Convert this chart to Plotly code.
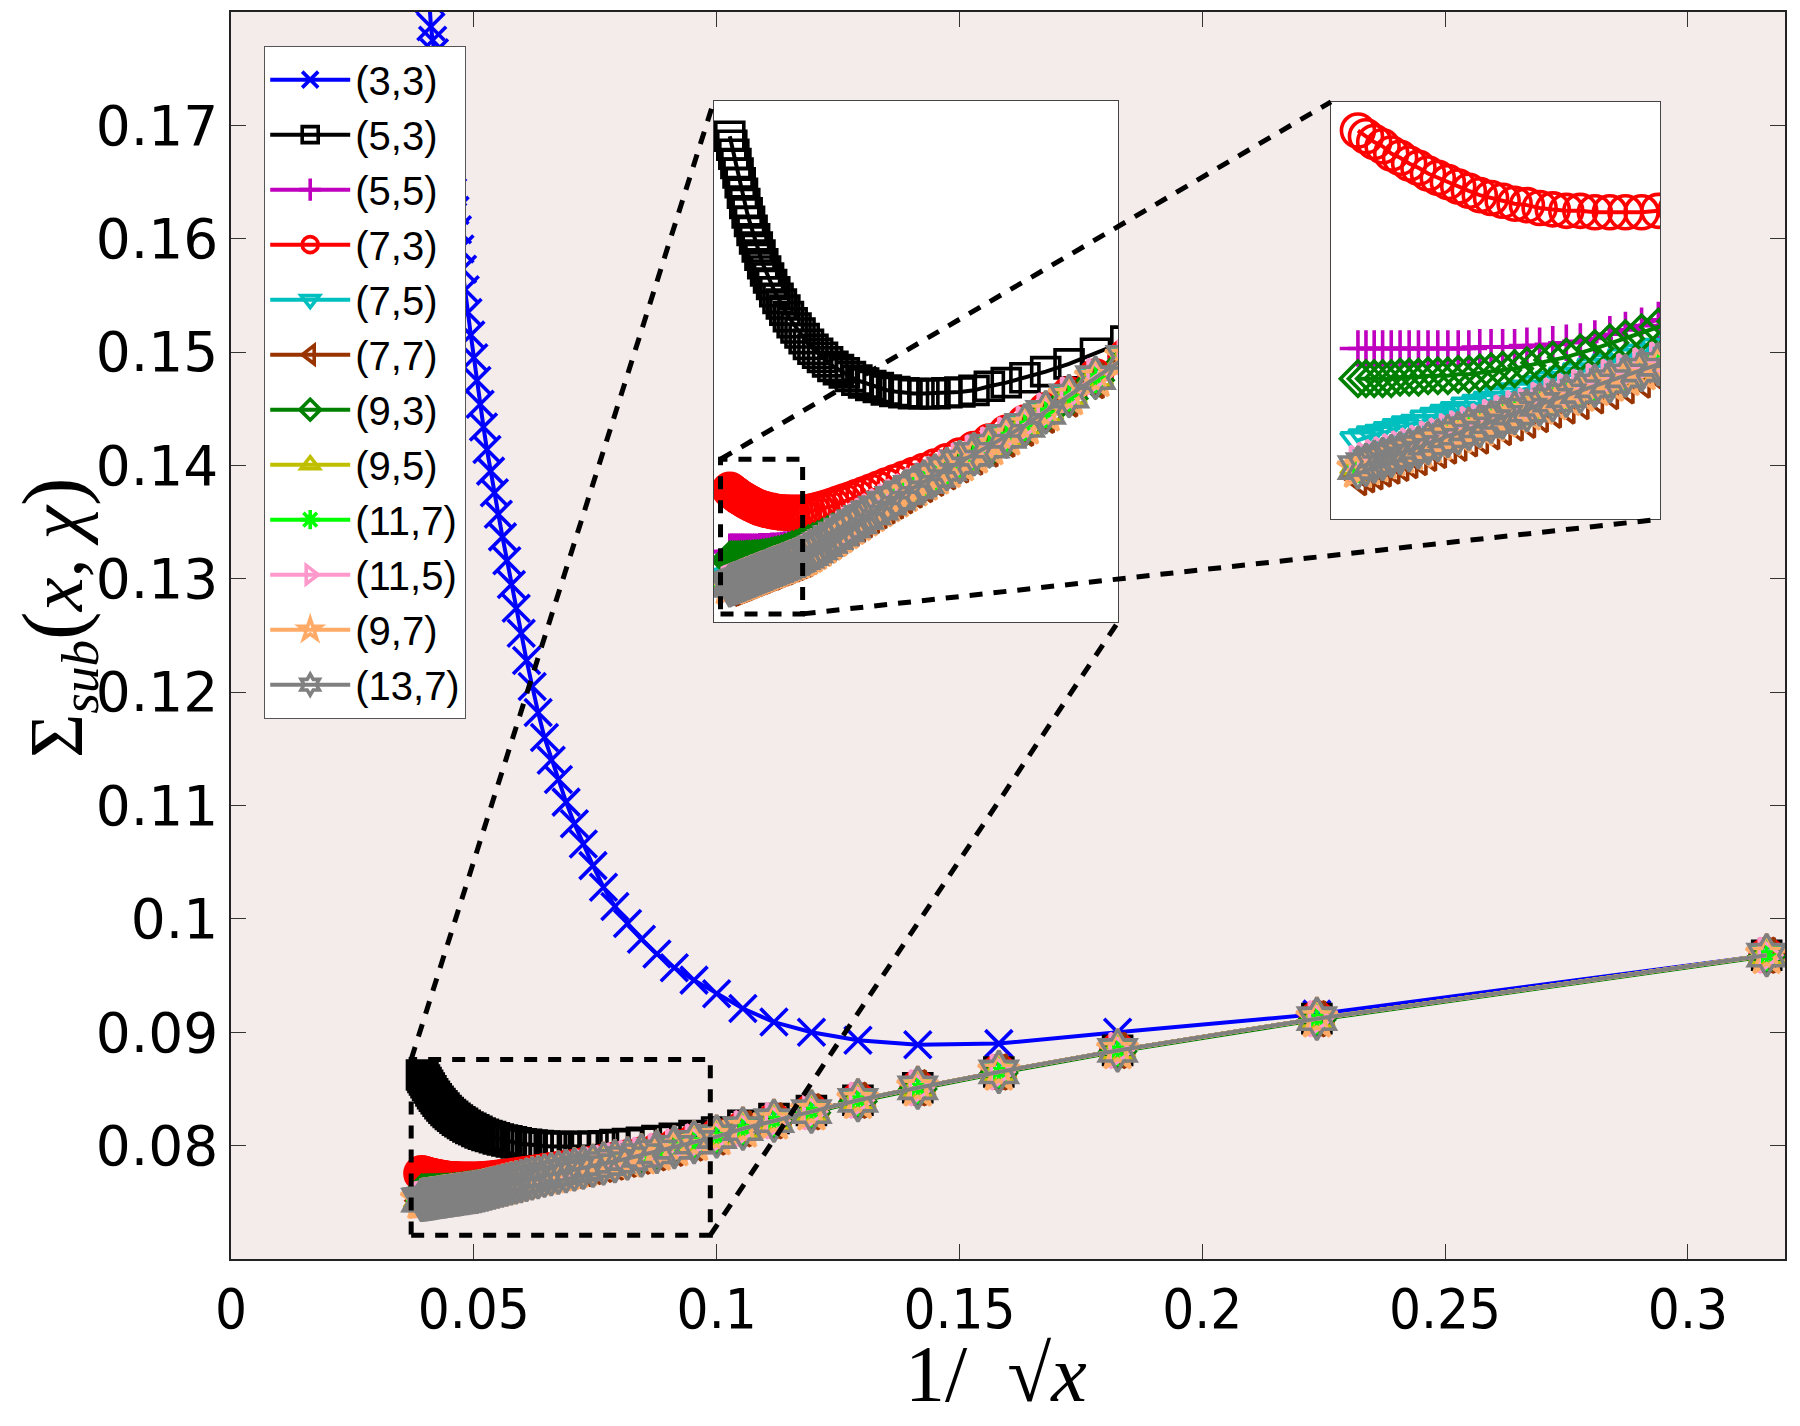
import numpy as np
import plotly.graph_objects as go

# ---------------- data ----------------
n_values = [10, 20, 30, 40, 50, 60, 70, 80, 90, 100,
            110, 120, 130, 140, 150, 160, 170, 180, 190, 200,
            210, 220, 230, 240, 250, 260, 270, 280, 290, 300,
            310, 320, 330, 340, 350, 360, 370, 380, 390, 400,
            410, 420, 430, 440, 450, 460, 470, 480, 490, 500,
            510, 520, 530, 540, 550, 560, 570, 580, 590, 600,
            610, 620, 630, 640, 650]

s33 = [0.0968, 0.0916, 0.0900, 0.0890, 0.0889, 0.0893, 0.0900, 0.0909, 0.0921, 0.0934,
       0.0946, 0.0957, 0.0969, 0.0982, 0.0996, 0.1011, 0.1028, 0.1047, 0.1066, 0.1084,
       0.1103, 0.1123, 0.1140, 0.1160, 0.1182, 0.1205, 0.1228, 0.1252, 0.1274, 0.1295,
       0.1316, 0.1337, 0.1357, 0.1376, 0.1395, 0.1414, 0.1434, 0.1454, 0.1475, 0.1495,
       0.1515, 0.1535, 0.1555, 0.1573, 0.1591, 0.1608, 0.1625, 0.1641, 0.1656, 0.1671,
       0.1686, 0.1700, 0.1714, 0.1727, 0.1740, 0.1752, 0.1764, 0.1775, 0.1787, 0.1811]

s53 = [0.0968, 0.0912, 0.0884, 0.0865, 0.0851, 0.0840, 0.0831, 0.0824, 0.0818, 0.0812,
       0.08090, 0.08064, 0.08045, 0.08030, 0.08018, 0.08009, 0.07999, 0.07995, 0.07993, 0.07991,
       0.07991, 0.07991, 0.07993, 0.07996, 0.08000, 0.08006, 0.08011, 0.08017, 0.08024, 0.08033,
       0.08042, 0.08050, 0.08058, 0.08069, 0.08080, 0.08090, 0.08100, 0.08112, 0.08126, 0.08140,
       0.08152, 0.08165, 0.08180, 0.08196, 0.08211, 0.08225, 0.08241, 0.08259, 0.08275, 0.08292,
       0.08310, 0.08331, 0.08351, 0.08371, 0.08392, 0.08414, 0.08435, 0.08458, 0.08483, 0.08509,
       0.08533, 0.08556, 0.08579, 0.08601, 0.08623]

s55 = [0.0968, 0.0912, 0.0884, 0.0865, 0.0851, 0.0840, 0.0830, 0.0822, 0.0815, 0.0808,
       0.08031, 0.07986, 0.07946, 0.07914, 0.07887, 0.07864, 0.07844, 0.07826, 0.07809, 0.07794,
       0.07779, 0.07766, 0.07753, 0.07741, 0.07730, 0.07719, 0.07708, 0.07698, 0.07688, 0.07679,
       0.07671, 0.07663, 0.07656, 0.07649, 0.07643, 0.07637, 0.07632, 0.07627, 0.07623, 0.07619,
       0.07616, 0.07613, 0.07610, 0.07608, 0.07607, 0.07606, 0.07605, 0.07605, 0.07604, 0.07604,
       0.07604, 0.07604, 0.07603, 0.07603, 0.07603, 0.07603, 0.07603, 0.07603, 0.07603, 0.07603,
       0.07603, 0.07603, 0.07603, 0.07603, 0.07603]

s73 = [0.0968, 0.0912, 0.0884, 0.0865, 0.0851, 0.0840, 0.0830, 0.0822, 0.0815, 0.08082,
       0.08033, 0.07989, 0.07950, 0.07920, 0.07895, 0.07873, 0.07855, 0.07839, 0.07825, 0.07812,
       0.07801, 0.07791, 0.07782, 0.07773, 0.07765, 0.07757, 0.07750, 0.07743, 0.07737, 0.07731,
       0.07726, 0.07721, 0.07716, 0.07712, 0.07708, 0.07705, 0.07702, 0.07700, 0.07699, 0.07698,
       0.07698, 0.07698, 0.07698, 0.07699, 0.07699, 0.07700, 0.07701, 0.07703, 0.07704, 0.07706,
       0.07708, 0.07710, 0.07713, 0.07716, 0.07719, 0.07722, 0.07725, 0.07729, 0.07732, 0.07736,
       0.07739, 0.07744, 0.07747, 0.07751, 0.07755]

s75 = [0.0968, 0.0912, 0.0884, 0.0865, 0.0851, 0.0840, 0.0830, 0.0822, 0.0815, 0.08082,
       0.08032, 0.07987, 0.07947, 0.07915, 0.07888, 0.07865, 0.07845, 0.07826, 0.07809, 0.07794,
       0.07779, 0.07765, 0.07751, 0.07739, 0.07727, 0.07715, 0.07704, 0.07693, 0.07683, 0.07673,
       0.07664, 0.07654, 0.07646, 0.07637, 0.07630, 0.07622, 0.07616, 0.07609, 0.07604, 0.07600,
       0.07597, 0.07593, 0.07590, 0.07587, 0.07584, 0.07581, 0.07578, 0.07575, 0.07573, 0.07570,
       0.07567, 0.07565, 0.07563, 0.07560, 0.07558, 0.07556, 0.07554, 0.07551, 0.07550, 0.07548,
       0.07546, 0.07544, 0.07543, 0.07541, 0.07539]

s77 = [0.0968, 0.0912, 0.0884, 0.0865, 0.0851, 0.0840, 0.0830, 0.0822, 0.0815, 0.08077,
       0.08023, 0.07978, 0.07938, 0.07906, 0.07879, 0.07855, 0.07835, 0.07816, 0.07799, 0.07783,
       0.07768, 0.07754, 0.07740, 0.07727, 0.07715, 0.07703, 0.07691, 0.07680, 0.07669, 0.07659,
       0.07649, 0.07639, 0.07630, 0.07621, 0.07613, 0.07605, 0.07598, 0.07591, 0.07585, 0.07581,
       0.07577, 0.07573, 0.07570, 0.07566, 0.07563, 0.07560, 0.07557, 0.07553, 0.07551, 0.07548,
       0.07545, 0.07542, 0.07540, 0.07537, 0.07535, 0.07532, 0.07530, 0.07527, 0.07525, 0.07523,
       0.07521, 0.07519, 0.07517, 0.07515, 0.07513]

s93 = [0.0967, 0.0911, 0.0883, 0.0864, 0.0850, 0.0839, 0.0829, 0.0821, 0.0814, 0.0807,
       0.08024, 0.07979, 0.07939, 0.07907, 0.07880, 0.07856, 0.07837, 0.07818, 0.07802, 0.07787,
       0.07773, 0.07760, 0.07747, 0.07735, 0.07724, 0.07713, 0.07702, 0.07692, 0.07682, 0.07674,
       0.07666, 0.07658, 0.07651, 0.07644, 0.07638, 0.07632, 0.07627, 0.07622, 0.07618, 0.07614,
       0.07610, 0.07607, 0.07603, 0.07600, 0.07597, 0.07595, 0.07593, 0.07591, 0.07589, 0.07588,
       0.07587, 0.07586, 0.07585, 0.07585, 0.07584, 0.07584, 0.07584, 0.07583, 0.07583, 0.07583,
       0.07582, 0.07582, 0.07582, 0.07582, 0.07582]

s95 = [0.0968, 0.0912, 0.0884, 0.0865, 0.0851, 0.0840, 0.0830, 0.0822, 0.0815, 0.0808,
       0.08031, 0.07986, 0.07946, 0.07914, 0.07887, 0.07863, 0.07843, 0.07824, 0.07807, 0.07791,
       0.07776, 0.07762, 0.07748, 0.07735, 0.07723, 0.07711, 0.07699, 0.07688, 0.07677, 0.07667,
       0.07657, 0.07647, 0.07638, 0.07629, 0.07621, 0.07613, 0.07606, 0.07599, 0.07593, 0.07589,
       0.07585, 0.07581, 0.07578, 0.07574, 0.07571, 0.07568, 0.07565, 0.07561, 0.07559, 0.07556,
       0.07553, 0.07550, 0.07548, 0.07545, 0.07543, 0.07540, 0.07538, 0.07535, 0.07533, 0.07531,
       0.07529, 0.07527, 0.07525, 0.07523, 0.07521]

s117 = [0.0968, 0.0912, 0.0884, 0.0865, 0.0851, 0.0840, 0.0830, 0.0822, 0.0815, 0.0808,
        0.08030, 0.07985, 0.07945, 0.07913, 0.07886, 0.07862, 0.07842, 0.07823, 0.07806, 0.07790,
        0.07775, 0.07761, 0.07747, 0.07734, 0.07722, 0.07710, 0.07698, 0.07687, 0.07676, 0.07666,
        0.07656, 0.07646, 0.07637, 0.07628, 0.07620, 0.07612, 0.07605, 0.07598, 0.07592, 0.07588,
        0.07584, 0.07580, 0.07577, 0.07573, 0.07570, 0.07567, 0.07564, 0.07560, 0.07558, 0.07555,
        0.07552, 0.07549, 0.07547, 0.07544, 0.07542, 0.07539, 0.07537, 0.07534, 0.07532, 0.07530,
        0.07528, 0.07526, 0.07524, 0.07522, 0.07520]

s115 = [0.0968, 0.0912, 0.0884, 0.0865, 0.0851, 0.0840, 0.0830, 0.0822, 0.0815, 0.0808,
        0.08033, 0.07988, 0.07948, 0.07916, 0.07889, 0.07865, 0.07845, 0.07826, 0.07809, 0.07793,
        0.07778, 0.07764, 0.07750, 0.07737, 0.07725, 0.07713, 0.07701, 0.07690, 0.07679, 0.07669,
        0.07659, 0.07649, 0.07640, 0.07631, 0.07623, 0.07615, 0.07608, 0.07601, 0.07595, 0.07591,
        0.07587, 0.07583, 0.07580, 0.07576, 0.07573, 0.07570, 0.07567, 0.07563, 0.07561, 0.07558,
        0.07555, 0.07552, 0.07550, 0.07547, 0.07545, 0.07542, 0.07540, 0.07537, 0.07535, 0.07533,
        0.07531, 0.07529, 0.07527, 0.07525, 0.07523]

s97 = [0.0968, 0.0912, 0.0884, 0.0865, 0.0851, 0.0840, 0.0830, 0.0822, 0.0815, 0.0808,
       0.08029, 0.07984, 0.07944, 0.07912, 0.07885, 0.07861, 0.07841, 0.07822, 0.07805, 0.07789,
       0.07774, 0.07760, 0.07746, 0.07733, 0.07721, 0.07709, 0.07697, 0.07686, 0.07675, 0.07665,
       0.07655, 0.07645, 0.07636, 0.07627, 0.07619, 0.07611, 0.07604, 0.07597, 0.07591, 0.07587,
       0.07583, 0.07579, 0.07576, 0.07572, 0.07569, 0.07566, 0.07563, 0.07559, 0.07557, 0.07554,
       0.07551, 0.07548, 0.07546, 0.07543, 0.07541, 0.07538, 0.07536, 0.07533, 0.07531, 0.07529,
       0.07527, 0.07525, 0.07523, 0.07521, 0.07519]

s137 = [0.0968, 0.0912, 0.0884, 0.0865, 0.0851, 0.0840, 0.0830, 0.0822, 0.0815, 0.0808,
        0.08030, 0.07985, 0.07945, 0.07913, 0.07886, 0.07862, 0.07842, 0.07823, 0.07806, 0.07790,
        0.07775, 0.07761, 0.07747, 0.07734, 0.07722, 0.07710, 0.07698, 0.07687, 0.07676, 0.07666,
        0.07656, 0.07646, 0.07637, 0.07628, 0.07620, 0.07612, 0.07605, 0.07598, 0.07592, 0.07588,
        0.07584, 0.07580, 0.07577, 0.07573, 0.07570, 0.07567, 0.07564, 0.07560, 0.07558, 0.07555,
        0.07552, 0.07549, 0.07547, 0.07544, 0.07542, 0.07539, 0.07537, 0.07534, 0.07532, 0.07530,
        0.07528, 0.07526, 0.07524, 0.07522, 0.07520]

series_names = ["(3,3)", "(5,3)", "(5,5)", "(7,3)", "(7,5)", "(7,7)",
                "(9,3)", "(9,5)", "(11,7)", "(11,5)", "(9,7)", "(13,7)"]
series_values = [s33, s53, s55, s73, s75, s77, s93, s95, s117, s115, s97, s137]
series_colors = ["#0000FF", "#000000", "#BF00BF", "#FF0000", "#00BFBF", "#993300",
                 "#008000", "#BFBF00", "#00FF00", "#FF99CC", "#FFAA66", "#808080"]
series_symbols = ["x-thin-open", "square-open", "cross-thin-open", "circle-open",
                  "triangle-down-open", "triangle-left-open", "diamond-open",
                  "triangle-up-open", "asterisk-open", "triangle-right-open",
                  "star-open", "hexagram-open"]
series_sizes = [27, 28, 26, 33, 30, 30, 27, 30, 26, 30, 31, 32]

x_ticks = [0, 0.05, 0.1, 0.15, 0.2, 0.25, 0.3]
x_ticktext = ["0", "0.05", "0.1", "0.15", "0.2", "0.25", "0.3"]
y_ticks = [0.08, 0.09, 0.10, 0.11, 0.12, 0.13, 0.14, 0.15, 0.16, 0.17]
y_ticktext = ["0.08", "0.09", "0.1", "0.11", "0.12", "0.13", "0.14", "0.15", "0.16", "0.17"]

# axis ranges
main_xr, main_yr = [0, 0.32], [0.07, 0.18]
in1_xr, in1_yr = [0.0368, 0.0988], [0.0743, 0.0871]
in2_xr, in2_yr = [0.0382, 0.0507], [0.07484, 0.07775]
main_box = dict(x0=0.0371, x1=0.0987, y0=0.0721, y1=0.0876)
small_box = dict(x0=0.0378, x1=0.0504, y0=0.0745, y1=0.0783)

# layout geometry
W, H = 1800, 1426
ML, MR, MT, MB = 231, 15, 10, 167
PW, PH = W - ML - MR, H - MT - MB


def px_to_paper(px, py):
    return (px - ML) / PW, (H - MB - py) / PH


in1_dx = [(714 - ML) / PW, (1118 - ML) / PW]
in1_dy = [(H - MB - 621) / PH, (H - MB - 99) / PH]
in2_dx = [(1331 - ML) / PW, (1660 - ML) / PW]
in2_dy = [(H - MB - 518) / PH, (H - MB - 100) / PH]

xs = [1.0 / np.sqrt(v) for v in n_values]

fig = go.Figure()
for ax_i, (xa, ya) in enumerate([("x", "y"), ("x2", "y2"), ("x3", "y3")]):
    for name, vals, col, sym, sz in zip(series_names, series_values, series_colors,
                                         series_symbols, series_sizes):
        fig.add_trace(go.Scatter(
            x=xs[:len(vals)], y=vals, mode="lines+markers", name=name,
            legendgroup=name, showlegend=(ax_i == 0),
            xaxis=xa, yaxis=ya,
            line=dict(color=col, width=4),
            marker=dict(symbol=sym, size=sz, color=col,
                        line=dict(color=col, width=3.6)),
            hoverinfo="skip",
        ))

axis_common = dict(showgrid=False, zeroline=False, showline=True, mirror="ticks",
                   linecolor="#222222", linewidth=1.6, ticks="inside", ticklen=15,
                   tickwidth=1.4, tickcolor="#333333")
inset_axis = dict(showgrid=False, zeroline=False, showline=True, mirror=True,
                  linecolor="#444444", linewidth=1.3, ticks="", showticklabels=False)


def map_lin(v, r, d):
    return d[0] + (v - r[0]) / (r[1] - r[0]) * (d[1] - d[0])


shapes = []
# backgrounds
shapes.append(dict(type="rect", xref="paper", yref="paper", x0=0, x1=1, y0=0, y1=1,
                   fillcolor="#F4EBEB", line=dict(width=0), layer="below"))
for dx, dy in [(in1_dx, in1_dy), (in2_dx, in2_dy)]:
    shapes.append(dict(type="rect", xref="paper", yref="paper", x0=dx[0], x1=dx[1],
                       y0=dy[0], y1=dy[1], fillcolor="white", line=dict(width=0),
                       layer="below"))

dash_line = dict(color="black", width=5, dash="13px,11px")
shapes.append(dict(type="rect", xref="x", yref="y", x0=main_box["x0"], x1=main_box["x1"],
                   y0=main_box["y0"], y1=main_box["y1"], line=dash_line, layer="above"))
shapes.append(dict(type="rect", xref="x2", yref="y2", x0=small_box["x0"], x1=small_box["x1"],
                   y0=small_box["y0"], y1=small_box["y1"], line=dash_line, layer="above"))

# connectors
p_main_tl = (map_lin(main_box["x0"], main_xr, [0, 1]), map_lin(main_box["y1"], main_yr, [0, 1]))
p_main_br = (map_lin(main_box["x1"], main_xr, [0, 1]), map_lin(main_box["y0"], main_yr, [0, 1]))
p_sb_tl = (map_lin(small_box["x0"], in1_xr, in1_dx), map_lin(small_box["y1"], in1_yr, in1_dy))
p_sb_br = (map_lin(small_box["x1"], in1_xr, in1_dx), map_lin(small_box["y0"], in1_yr, in1_dy))
connectors = [
    (p_main_tl, (in1_dx[0], in1_dy[1])),
    (p_main_br, (in1_dx[1], in1_dy[0])),
    (p_sb_tl, (in2_dx[0], in2_dy[1])),
    (p_sb_br, (in2_dx[1], in2_dy[0])),
]
for (a, b) in connectors:
    shapes.append(dict(type="line", xref="paper", yref="paper", x0=a[0], y0=a[1],
                       x1=b[0], y1=b[1], line=dash_line, layer="above"))

yt_x, yt_y = px_to_paper(57, 617)
xt_x, xt_y = px_to_paper(996, 1374)
serif = "Liberation Serif, DejaVu Serif, serif"
annotations = [
    dict(text="Σ<sub><i>sub</i></sub><span style='font-size:86px'>(</span><i>x</i>, "
              "<i>χ</i><span style='font-size:86px'>)</span>",
         xref="paper", yref="paper",
         x=yt_x, y=yt_y, textangle=-90, showarrow=False, xanchor="center", yanchor="middle",
         font=dict(family=serif, size=76, color="black")),
    dict(text="1/  √<i>x</i>", xref="paper", yref="paper", x=xt_x, y=xt_y, showarrow=False,
         xanchor="center", yanchor="middle",
         font=dict(family=serif, size=80, color="black")),
]

leg_x, leg_y = px_to_paper(264, 44)
fig.update_layout(
    width=W, height=H,
    margin=dict(l=ML, r=MR, t=MT, b=MB, pad=0),
    paper_bgcolor="white", plot_bgcolor="rgba(0,0,0,0)",
    xaxis=dict(range=main_xr, domain=[0, 1], tickvals=x_ticks, ticktext=x_ticktext,
               tickfont=dict(family="Liberation Sans Narrow, DejaVu Sans Condensed, Liberation Sans, Arial",
                             size=56, color="black"), **axis_common),
    yaxis=dict(range=main_yr, domain=[0, 1], tickvals=y_ticks, ticktext=y_ticktext,
               tickfont=dict(family="DejaVu Sans, Arial", size=55, color="black"),
               **axis_common),
    xaxis2=dict(range=in1_xr, domain=in1_dx, anchor="y2", **inset_axis),
    yaxis2=dict(range=in1_yr, domain=in1_dy, anchor="x2", **inset_axis),
    xaxis3=dict(range=in2_xr, domain=in2_dx, anchor="y3", **inset_axis),
    yaxis3=dict(range=in2_yr, domain=in2_dy, anchor="x3", **inset_axis),
    legend=dict(x=leg_x, y=leg_y, xanchor="left", yanchor="top",
                bgcolor="white", bordercolor="#555555", borderwidth=1.2,
                font=dict(family="Liberation Sans, Arial", size=40, color="black"),
                traceorder="grouped", tracegroupgap=0, itemwidth=80,
                itemsizing="trace"),
    shapes=shapes,
    annotations=annotations,
    showlegend=True,
)

fig.write_html("out.html")
